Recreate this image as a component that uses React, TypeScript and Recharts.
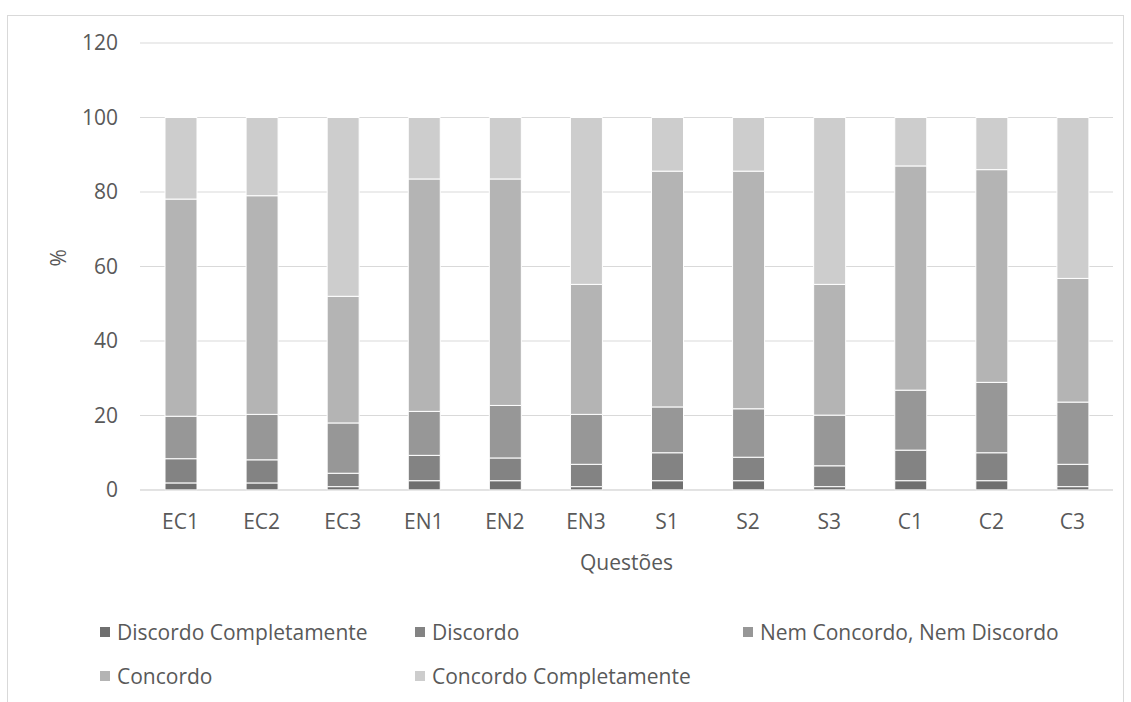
import React from 'react';
import { BarChart, Bar, XAxis, YAxis, CartesianGrid, Legend, Label } from 'recharts';

const categories = ['EC1', 'EC2', 'EC3', 'EN1', 'EN2', 'EN3', 'S1', 'S2', 'S3', 'C1', 'C2', 'C3'];
const discordoCompletamente = [1.9, 1.9, 0.9, 2.5, 2.5, 0.9, 2.5, 2.5, 0.9, 2.5, 2.5, 0.9];
const discordo = [6.5, 6.2, 3.6, 6.8, 6.1, 6.0, 7.5, 6.3, 5.6, 8.2, 7.5, 6.0];
const nemConcordoNemDiscordo = [11.4, 12.2, 13.5, 11.8, 14.1, 13.4, 12.3, 13.0, 13.6, 16.1, 18.9, 16.7];
const concordo = [58.3, 58.7, 34.0, 62.4, 60.8, 34.9, 63.3, 63.8, 35.1, 60.2, 57.1, 33.2];
const concordoCompletamente = [21.9, 21.0, 48.0, 16.5, 16.5, 44.8, 14.4, 14.4, 44.8, 13.0, 14.0, 43.2];
const yTicks = [0, 20, 40, 60, 80, 100, 120];

const seriesKeys = ['dc', 'd', 'n', 'c', 'cc'];
const seriesNames = [
  'Discordo Completamente',
  'Discordo',
  'Nem Concordo, Nem Discordo',
  'Concordo',
  'Concordo Completamente',
];
const seriesColors = ['#6f6f6f', '#838383', '#979797', '#b4b4b4', '#cdcdcd'];
const seriesValues = [discordoCompletamente, discordo, nemConcordoNemDiscordo, concordo, concordoCompletamente];

const data = categories.map((cat, i) => {
  const row: Record<string, any> = { name: cat };
  seriesKeys.forEach((k, s) => {
    row[k] = seriesValues[s][i];
  });
  return row;
});

const TEXT = '#595959';
const FONT = "'Open Sans', sans-serif";
const FS = 21;
const legendCols = [0, 315, 643];

const LegendContent = (props: any) => {
  const payload = [...(props.payload || [])].sort(
    (a: any, b: any) => seriesNames.indexOf(a.value) - seriesNames.indexOf(b.value)
  );
  return (
    <div style={{ position: 'relative', width: 1000, height: 70, fontFamily: FONT }}>
      {payload.map((entry: any, i: number) => (
        <div
          key={entry.value}
          style={{
            position: 'absolute',
            left: legendCols[i % 3],
            top: Math.floor(i / 3) * 44,
            height: 24,
            display: 'flex',
            alignItems: 'center',
            whiteSpace: 'nowrap',
            color: TEXT,
            fontSize: FS,
          }}
        >
          <span style={{ display: 'inline-block', width: 10, height: 10, background: entry.color, marginRight: 7 }} />
          <span>{entry.value}</span>
        </div>
      ))}
    </div>
  );
};

export default function App() {
  return (
    <div style={{ position: 'absolute', left: 0, top: 0, width: 1131, height: 702, overflow: 'hidden', background: '#fff', fontFamily: FONT }}>
      <div style={{ position: 'absolute', left: 7, top: 15, width: 1115, height: 720, border: '1px solid #d9d9d9' }} />
      <div style={{ position: 'absolute', left: 0, top: 0 }}>
        <BarChart
          width={1131}
          height={702}
          data={data}
          margin={{ top: 43, right: 18, left: 0, bottom: 122 }}
        >
          <CartesianGrid vertical={false} stroke="#d9d9d9" strokeWidth={1} />
          <XAxis
            dataKey="name"
            height={90}
            axisLine={{ stroke: '#d9d9d9' }}
            tickLine={false}
            tickSize={0}
            tickMargin={24}
            tick={{ fill: TEXT, fontSize: FS }}
          >
            <Label value="Questões" position="insideBottom" offset={10} fill={TEXT} fontSize={FS} />
          </XAxis>
          <YAxis
            width={140}
            domain={[0, 120]}
            ticks={yTicks}
            axisLine={false}
            tickLine={false}
            tickSize={0}
            tickMargin={22}
            tick={{ fill: TEXT, fontSize: FS }}
          >
            <Label value="%" angle={-90} position="insideLeft" offset={59} fill={TEXT} fontSize={FS} />
          </YAxis>
          <Legend
            layout="horizontal"
            verticalAlign="middle"
            align="center"
            wrapperStyle={{ left: 100, top: 620, width: 1000 }}
            content={LegendContent}
          />
          {seriesKeys.map((k, s) => (
            <Bar
              key={k}
              dataKey={k}
              name={seriesNames[s]}
              stackId="a"
              fill={seriesColors[s]}
              stroke="#ffffff"
              strokeWidth={1}
              barSize={32}
              isAnimationActive={false}
            />
          ))}
        </BarChart>
      </div>
    </div>
  );
}
